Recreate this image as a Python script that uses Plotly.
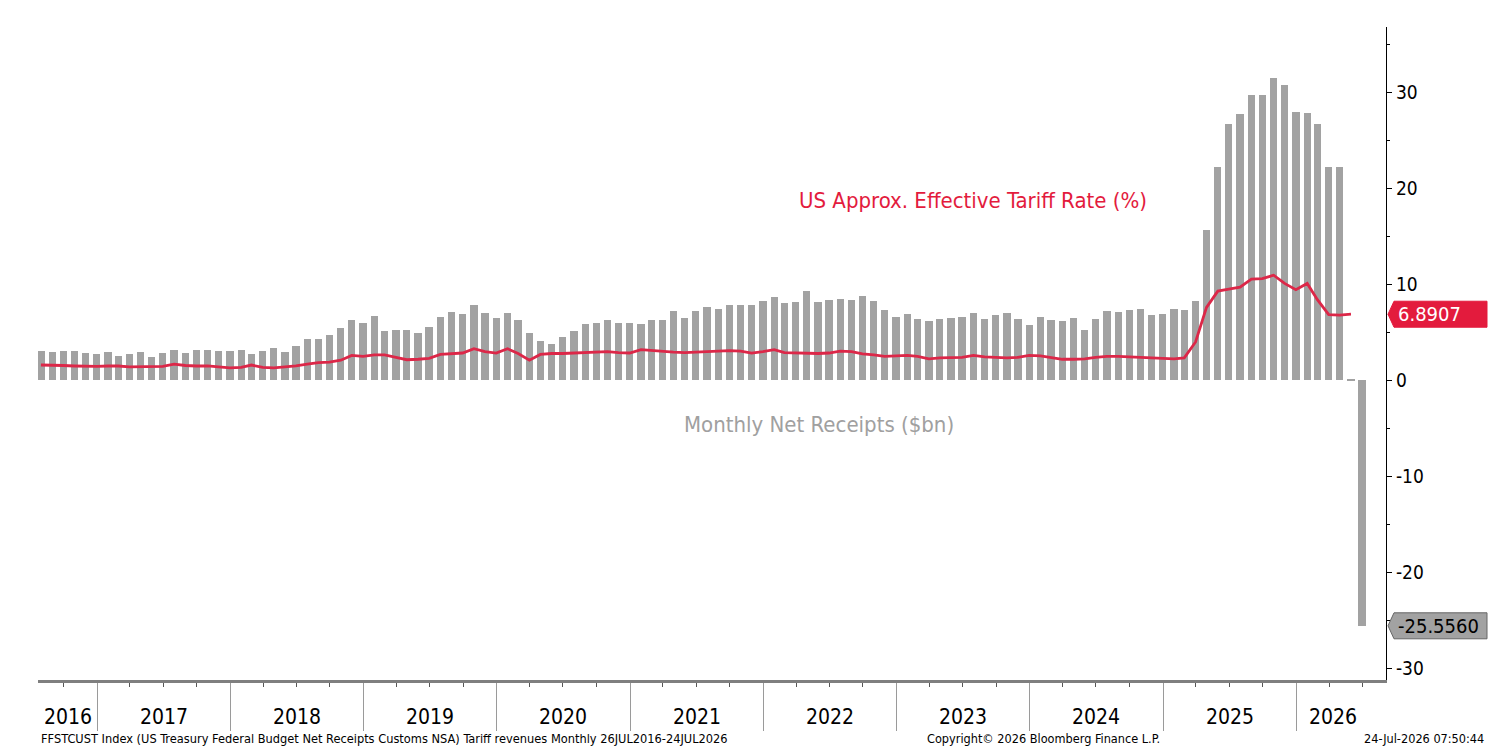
import pandas as pd
import plotly.graph_objects as go

# Monthly customs receipts ($bn), Jul 2016 .. Jun 2026 (plotted at month end)
receipts = [
    3.1, 3.0, 3.1, 3.1, 2.9, 2.8,                               # 2016 H2
    3.0, 2.5, 2.7, 3.0, 2.4, 2.9, 3.2, 2.9, 3.2, 3.2, 3.1, 3.1,  # 2017
    3.2, 2.7, 3.1, 3.4, 3.0, 3.6, 4.3, 4.3, 4.7, 5.5, 6.3, 6.0,  # 2018
    6.7, 5.1, 5.2, 5.2, 4.9, 5.6, 6.6, 7.1, 6.9, 7.8, 7.0, 6.5,  # 2019
    7.0, 6.3, 4.9, 4.1, 3.8, 4.5, 5.1, 5.9, 6.0, 6.25, 6.0, 6.0,  # 2020
    5.9, 6.3, 6.3, 7.2, 6.5, 7.2, 7.6, 7.4, 7.9, 7.9, 7.9, 8.3,  # 2021
    8.7, 8.05, 8.2, 9.3, 8.2, 8.4, 8.5, 8.4, 8.75, 8.3, 7.3, 6.6,  # 2022
    6.9, 6.35, 6.15, 6.35, 6.45, 6.55, 7.0, 6.35, 6.8, 7.0, 6.35, 5.75,  # 2023
    6.55, 6.25, 6.15, 6.45, 5.25, 6.35, 7.2, 7.1, 7.3, 7.4, 6.8, 6.9,  # 2024
    7.4, 7.3, 8.25, 15.7, 22.2, 26.7, 27.7, 29.7, 29.75, 31.45, 30.8, 27.9,  # 2025
    27.85, 26.65, 22.2, 22.2, 0.1, -25.556,                     # 2026 H1
]

# US approx. effective tariff rate (%), Jul 2016 .. May 2026
tariff_rate = [
    1.6, 1.6, 1.55, 1.5, 1.45, 1.45,
    1.5, 1.5, 1.4, 1.4, 1.4, 1.45, 1.7, 1.55, 1.5, 1.5, 1.4, 1.3,
    1.35, 1.6, 1.35, 1.3, 1.4, 1.5, 1.7, 1.85, 1.9, 2.1, 2.6, 2.5,
    2.65, 2.65, 2.4, 2.15, 2.2, 2.3, 2.7, 2.8, 2.85, 3.3, 3.0, 2.85,
    3.3, 2.8, 2.1, 2.7, 2.8, 2.8, 2.85, 2.95, 3.0, 3.0, 2.9, 2.85,
    3.2, 3.1, 3.0, 2.95, 2.9, 2.95, 3.0, 3.1, 3.1, 3.05, 2.85, 3.0,
    3.2, 2.9, 2.85, 2.85, 2.8, 2.85, 3.05, 3.0, 2.75, 2.65, 2.5, 2.55,
    2.6, 2.5, 2.25, 2.35, 2.4, 2.4, 2.6, 2.45, 2.4, 2.35, 2.4, 2.6,
    2.55, 2.35, 2.2, 2.2, 2.25, 2.4, 2.5, 2.5, 2.45, 2.4, 2.35, 2.3,
    2.25, 2.35, 4.0, 7.6, 9.3, 9.5, 9.7, 10.55, 10.6, 10.95, 10.1, 9.45,
    10.1, 8.4, 6.85, 6.8, 6.8907,
]

y_ticks = [-30, -20, -10, 0, 10, 20, 30]
y_tick_text = ["-30", "-20", "-10", "0", "10", "20", "30"]

months = pd.date_range("2016-07-31", periods=len(receipts), freq="ME")
years = list(range(2016, 2027))
data_start = pd.Timestamp("2016-07-26")
data_end = pd.Timestamp("2026-07-24")

RED = "#e31b3d"
LINE_RED = "#dc2748"
GRAY = "#a2a2a2"
FONT = "DejaVu Sans Condensed, Liberation Sans Narrow, sans-serif"

fig = go.Figure()

fig.add_trace(go.Bar(
    x=months, y=receipts,
    marker=dict(color=GRAY, line=dict(width=0)),
    width=20 * 86400000,
    name="Monthly Net Receipts ($bn)",
))

fig.add_trace(go.Scatter(
    x=months[:len(tariff_rate)], y=tariff_rate,
    mode="lines", line=dict(color=LINE_RED, width=2.8),
    name="US Approx. Effective Tariff Rate (%)",
))

annotations = []
# year labels, centred on the visible part of each year
for yr in years:
    a = max(pd.Timestamp(f"{yr}-01-01"), data_start)
    b = min(pd.Timestamp(f"{yr + 1}-01-01"), data_end)
    mid = a + (b - a) / 2
    annotations.append(dict(
        x=mid, y=-0.057, xref="x", yref="paper", text=str(yr),
        showarrow=False, font=dict(family=FONT, size=21, color="black"),
        xanchor="center", yanchor="middle",
    ))

annotations += [
    dict(x=pd.Timestamp("2023-07-30"), y=18.7, xref="x", yref="y",
         text="US Approx. Effective Tariff Rate (%)", showarrow=False,
         font=dict(family=FONT, size=22, color=RED)),
    dict(x=pd.Timestamp("2022-06-04"), y=-4.64, xref="x", yref="y",
         text="Monthly Net Receipts ($bn)", showarrow=False,
         font=dict(family=FONT, size=22, color="#a0a0a0")),
    # last value tags
    dict(x=1, xref="paper", xshift=10, y=tariff_rate[-1], yref="y",
         text=f"{tariff_rate[-1]:.4f}", showarrow=False, xanchor="left",
         font=dict(family=FONT, size=20, color="white")),
    dict(x=1, xref="paper", xshift=10, y=receipts[-1], yref="y",
         text=f"{receipts[-1]:.4f}", showarrow=False, xanchor="left",
         font=dict(family=FONT, size=20, color="black")),
    # footer
    dict(x=0, y=-0.09, xref="paper", yref="paper", xshift=1,
         text="FFSTCUST Index (US Treasury Federal Budget Net Receipts Customs NSA) Tariff revenues Monthly 26JUL2016-24JUL2026",
         showarrow=False, xanchor="left", yanchor="middle",
         font=dict(family=FONT, size=12.7, color="black")),
    dict(x=0.746, y=-0.09, xref="paper", yref="paper",
         text="Copyright© 2026 Bloomberg Finance L.P.",
         showarrow=False, xanchor="center", yanchor="middle",
         font=dict(family=FONT, size=12.6, color="black")),
    dict(x=1, y=-0.09, xref="paper", yref="paper", xshift=100,
         text="24-Jul-2026 07:50:44",
         showarrow=False, xanchor="right", yanchor="middle",
         font=dict(family=FONT, size=12.6, color="black")),
]

shapes = []
tag_path = "M 2,0 L 8,13 L 101,13 L 101,-13 L 8,-13 Z"
for val, fill, edge in [(tariff_rate[-1], RED, RED), (receipts[-1], GRAY, "#666666")]:
    shapes.append(dict(
        type="path", path=tag_path,
        xref="paper", xsizemode="pixel", xanchor=1,
        yref="y", ysizemode="pixel", yanchor=val,
        fillcolor=fill, line=dict(color=edge, width=1), layer="above",
    ))

# page body has an 8px margin, so the figure is a little smaller than the window
fig.update_layout(
    width=1501, height=748,
    margin=dict(l=30, r=123, t=19, b=76),
    paper_bgcolor="white", plot_bgcolor="white",
    showlegend=False, bargap=0,
    annotations=annotations, shapes=shapes,
    xaxis=dict(
        type="date",
        range=[pd.Timestamp("2016-07-23"), pd.Timestamp("2026-09-04")],
        showgrid=False, zeroline=False,
        showline=True, linecolor="#7f7f7f", linewidth=3,
        tickmode="array",
        tickvals=[pd.Timestamp(f"{yr}-01-01") for yr in years[1:]],
        ticks="outside", ticklen=48, tickcolor="#9a9a9a", tickwidth=1,
        showticklabels=False,
        minor=dict(tickmode="linear", tick0="2016-01-01", dtick="M3",
                   ticks="outside", ticklen=4, tickcolor="#555555", tickwidth=1),
    ),
    yaxis=dict(
        side="right", range=[-31.2, 36.8],
        tickmode="array", tickvals=y_ticks, ticktext=y_tick_text,
        showgrid=False, zeroline=False,
        showline=True, linecolor="black", linewidth=1.2,
        ticks="outside", ticklen=5, tickcolor="black",
        tickfont=dict(family=FONT, size=19, color="black"),
        minor=dict(dtick=5, ticks="outside", ticklen=3, tickcolor="black"),
    ),
)

fig.write_html("out.html")
